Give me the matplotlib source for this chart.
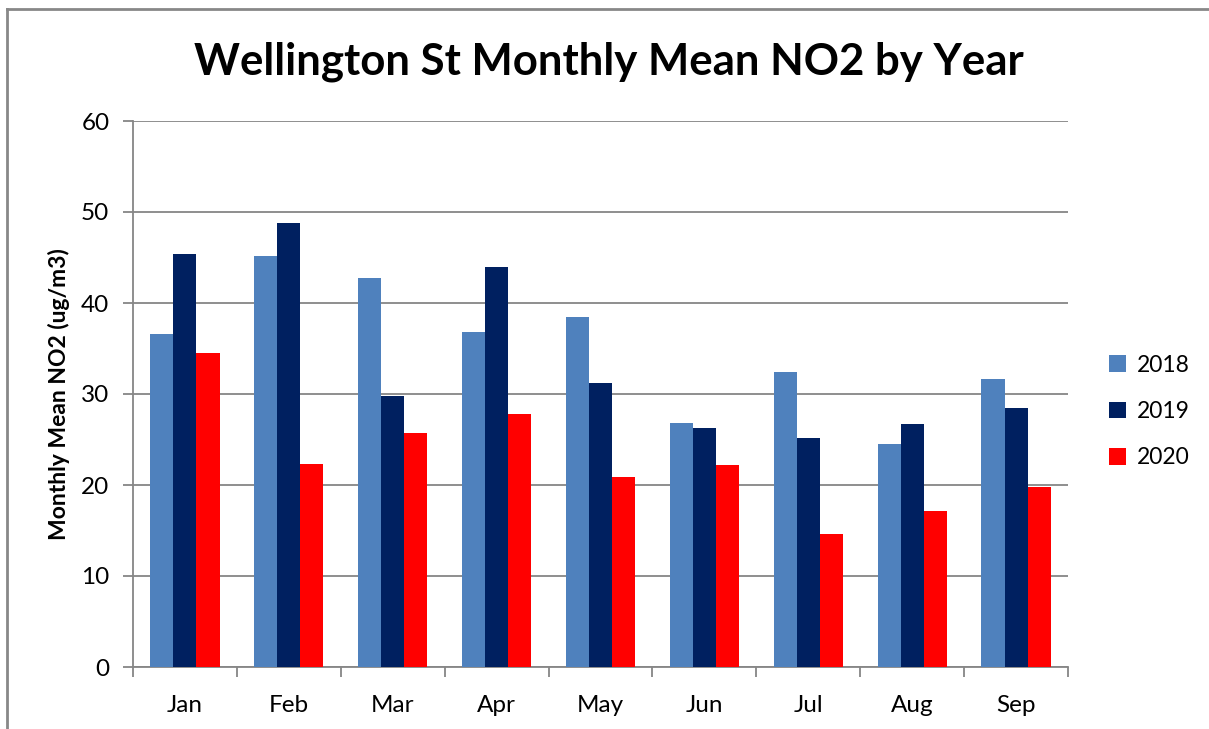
import matplotlib.pyplot as plt
import numpy as np
from matplotlib.lines import Line2D

# data
months = ['Jan', 'Feb', 'Mar', 'Apr', 'May', 'Jun', 'Jul', 'Aug', 'Sep']
no2_2018 = [36.6, 45.2, 42.8, 36.8, 38.5, 26.8, 32.4, 24.5, 31.6]
no2_2019 = [45.4, 48.8, 29.8, 44.0, 31.2, 26.3, 25.2, 26.7, 28.5]
no2_2020 = [34.5, 22.3, 25.7, 27.8, 20.9, 22.2, 14.6, 17.1, 19.8]
years = ['2018', '2019', '2020']
colors = ['#4f81bd', '#002060', '#ff0000']

plt.rcParams['font.family'] = ['Lato', 'DejaVu Sans']

fig = plt.figure(figsize=(12.09, 7.29), dpi=100)
ax = fig.add_axes([133/1209, 1-667/729, (1068-133)/1209, (667-121)/729])

x = np.arange(len(months))
w = 0.222
for i, (vals, lab, c) in enumerate(zip([no2_2018, no2_2019, no2_2020], years, colors)):
    ax.bar(x + (i-1)*w, vals, w, color=c, label=lab, zorder=3)

ax.set_xlim(-0.5, len(months)-0.5)
ax.set_ylim(0, 60)
ax.set_yticks(range(0, 61, 10))
ax.yaxis.grid(True, color='#868686', linewidth=1.3, zorder=0)
ax.set_xticks(x)
ax.set_xticklabels(months, fontsize=17.5)
ax.set_xticks(np.arange(-0.5, len(months)), minor=True)
ax.tick_params(axis='x', which='major', length=0, pad=20)
ax.tick_params(axis='x', which='minor', length=7, color='#868686', width=1.3)
ax.tick_params(axis='y', length=7, color='#868686', width=1.3, labelsize=17.5, pad=10)
for s in ['top', 'right']:
    ax.spines[s].set_visible(False)
for s in ['left', 'bottom']:
    ax.spines[s].set_color('#868686')
    ax.spines[s].set_linewidth(1.3)

ax.set_ylabel('Monthly Mean NO2 (ug/m3)', fontsize=16.5, fontweight='bold', labelpad=8)
fig.text(0.504, 1-62/729, 'Wellington St Monthly Mean NO2 by Year', fontsize=31.5,
         fontweight='bold', ha='center', va='center')

ax.legend(loc='center left', bbox_to_anchor=(1.022, 0.468), frameon=False, fontsize=16.5,
          handlelength=0.75, handleheight=0.75, labelspacing=1.1, handletextpad=0.45)

# outer chart frame (cut off at right and bottom)
fig.add_artist(Line2D([7/1209, 7/1209], [0, 1-9/729], transform=fig.transFigure,
                      color='#888888', linewidth=2))
fig.add_artist(Line2D([7/1209, 1], [1-9/729, 1-9/729], transform=fig.transFigure,
                      color='#888888', linewidth=2))

fig.savefig('out.png', dpi=100)
